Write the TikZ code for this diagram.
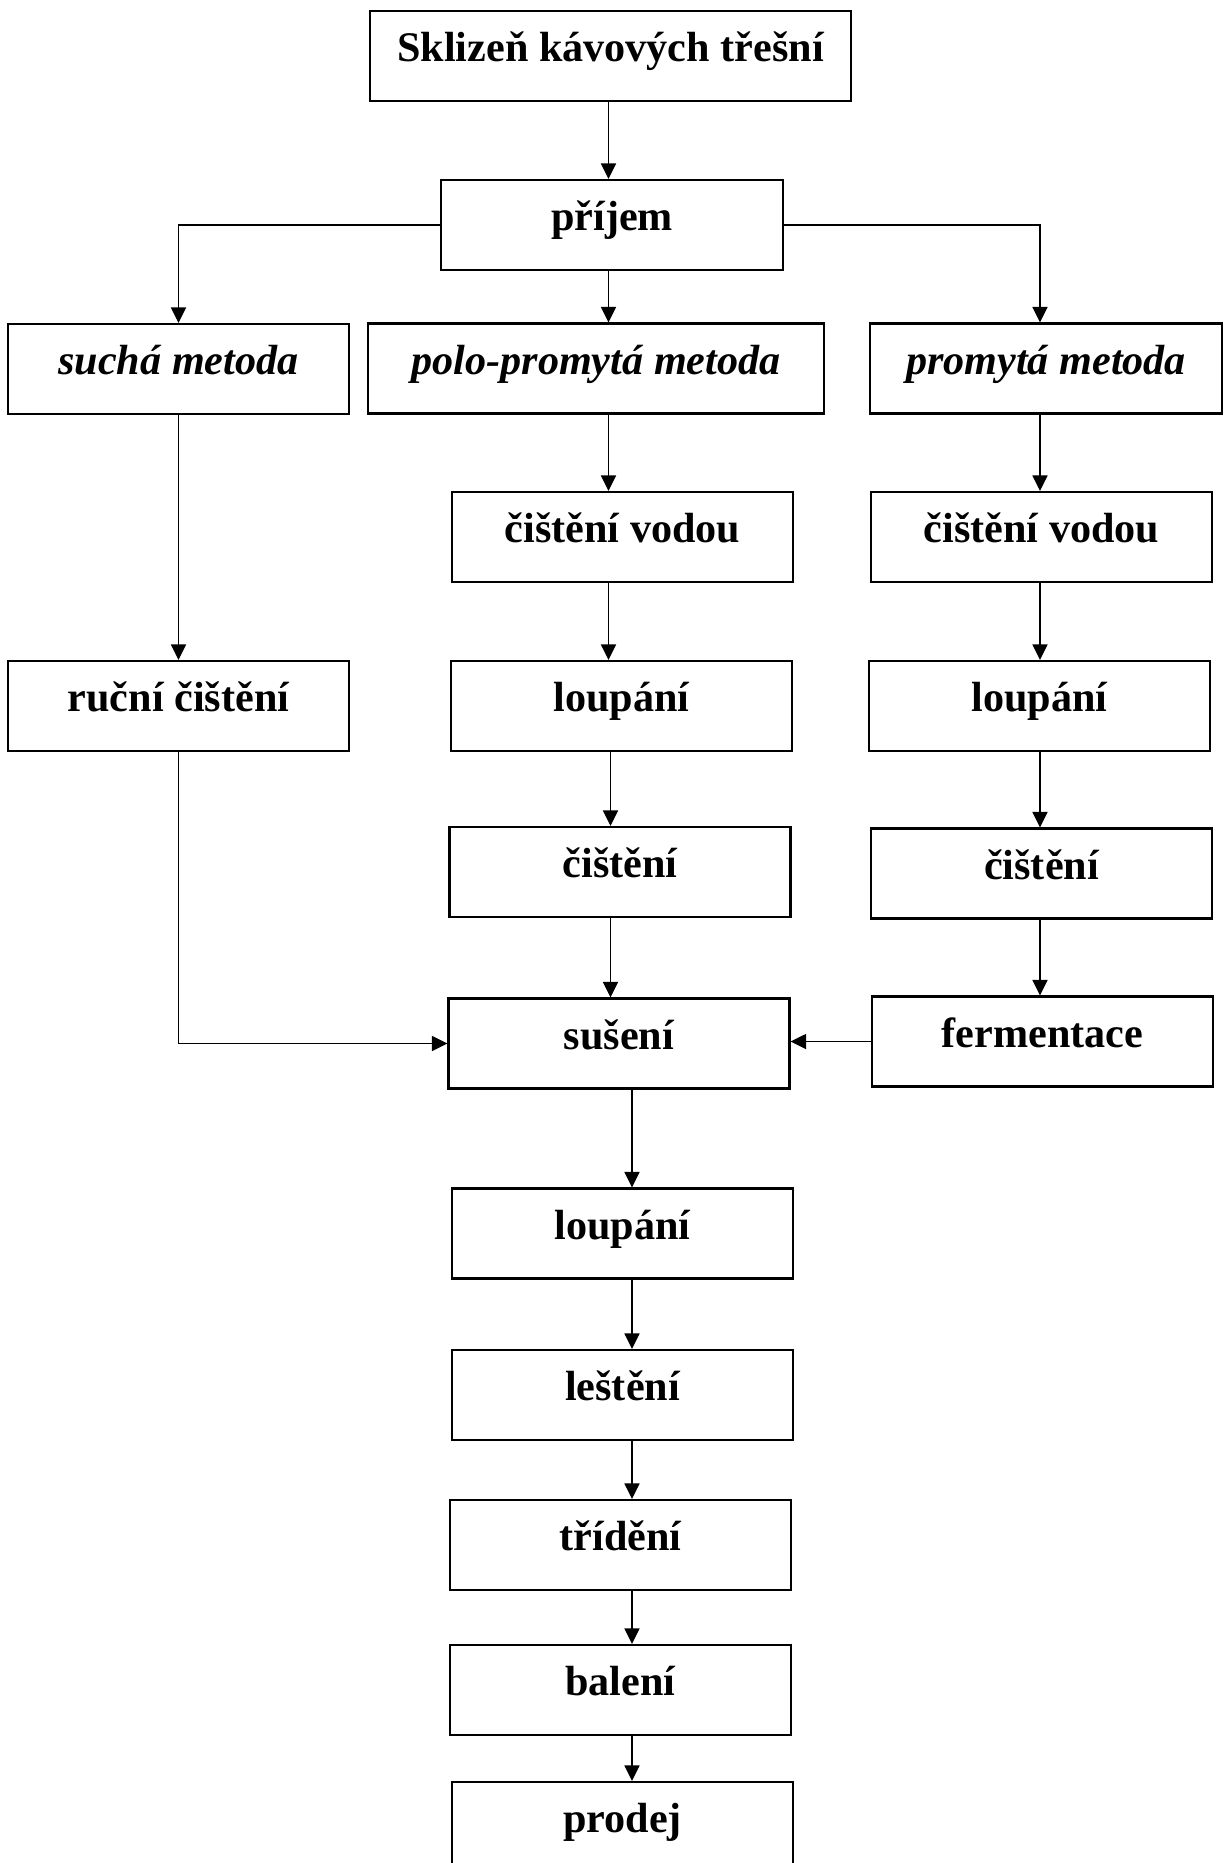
\documentclass[tikz,border=0pt]{standalone}
\usepackage{fontspec}
\setmainfont{Liberation Serif}
\usepackage{tikz}
\usetikzlibrary{arrows.meta}

\begin{document}
\begin{tikzpicture}[
  font=\fontsize{24}{28}\selectfont\bfseries,
  stage/.style  = {rectangle, draw=black, line width=1.2pt, fill=white,
    minimum width=6.82cm, minimum height=1.8cm, inner sep=0pt,
    text height=17pt, text depth=10.5pt, align=center},
  method/.style = {stage, font=\fontsize{24}{28}\selectfont\bfseries\itshape},
  arrow/.style  = {-{Triangle[length=0.31cm,width=0.3cm]}, line width=0.7pt, draw=black},
]
  \clip (0,0) rectangle (24.6,-37.26);
  \fill[white] (0,0) rectangle (24.6,-37.26);

  \coordinate (upx)  at (12.17,0);
  \coordinate (lowx) at (12.64,0);
  \coordinate (rx)   at (20.80,0);

  \node[stage, minimum width=9.62cm] (sklizen) at (12.21,-1.12) {Sklizeň kávových třešní};
  \node[stage, minimum width=6.84cm] (prijem)  at (12.24,-4.50) {příjem};

  \node[method] (sucha)   at (3.57,-7.38) {suchá metoda};
  \node[method, minimum width=9.12cm] (polo)    at (11.92,-7.37) {polo-promytá metoda};
  \node[method, minimum width=7.04cm] (promyta) at (20.92,-7.37) {promytá metoda};

  \node[stage] (vodaA)   at (12.45,-10.74) {čištění vodou};
  \node[stage] (vodaB)   at (20.83,-10.74) {čištění vodou};
  \node[stage] (rucni)   at (3.57,-14.12)  {ruční čištění};
  \node[stage] (loupA)   at (12.43,-14.12) {loupání};
  \node[stage] (loupB)   at (20.79,-14.12) {loupání};
  \node[stage] (cistA)   at (12.40,-17.44) {čištění};
  \node[stage] (cistB)   at (20.83,-17.47) {čištění};
  \node[stage] (suseni)  at (12.38,-20.87) {sušení};
  \node[stage] (ferment) at (20.85,-20.83) {fermentace};

  \node[stage] (loupC)   at (12.45,-24.67) {loupání};
  \node[stage] (lesteni) at (12.45,-27.90) {leštění};
  \node[stage] (trideni) at (12.41,-30.90) {třídění};
  \node[stage] (baleni)  at (12.41,-33.80) {balení};
  \node[stage] (prodej)  at (12.45,-36.54) {prodej};

  \draw[arrow] (sklizen.south -| upx) -- (prijem.north -| upx);
  \draw[arrow] (prijem.south -| upx) -- (polo.north -| upx);
  \draw[arrow] (prijem.west) -| (sucha.north);
  \draw[arrow] (prijem.east) -| (promyta.north -| rx);

  \draw[arrow] (sucha.south) -- (rucni.north);
  \draw[arrow] (rucni.south) |- (suseni.west);

  \draw[arrow] (polo.south -| upx) -- (vodaA.north -| upx);
  \draw[arrow] (vodaA.south -| upx) -- (loupA.north -| upx);
  \draw[arrow] ([xshift=0.04cm]loupA.south -| upx) -- ([xshift=0.04cm]cistA.north -| upx);
  \draw[arrow] ([xshift=0.04cm]cistA.south -| upx) -- ([xshift=0.04cm]suseni.north -| upx);

  \draw[arrow] (promyta.south -| rx) -- (vodaB.north -| rx);
  \draw[arrow] (vodaB.south -| rx) -- (loupB.north -| rx);
  \draw[arrow] (loupB.south -| rx) -- (cistB.north -| rx);
  \draw[arrow] (cistB.south -| rx) -- (ferment.north -| rx);
  \draw[arrow] (ferment.west) -- (ferment.west -| suseni.east);

  \draw[arrow] (suseni.south -| lowx) -- (loupC.north -| lowx);
  \draw[arrow] (loupC.south -| lowx) -- (lesteni.north -| lowx);
  \draw[arrow] (lesteni.south -| lowx) -- (trideni.north -| lowx);
  \draw[arrow] (trideni.south -| lowx) -- (baleni.north -| lowx);
  \draw[arrow] (baleni.south -| lowx) -- (prodej.north -| lowx);
\end{tikzpicture}
\end{document}
